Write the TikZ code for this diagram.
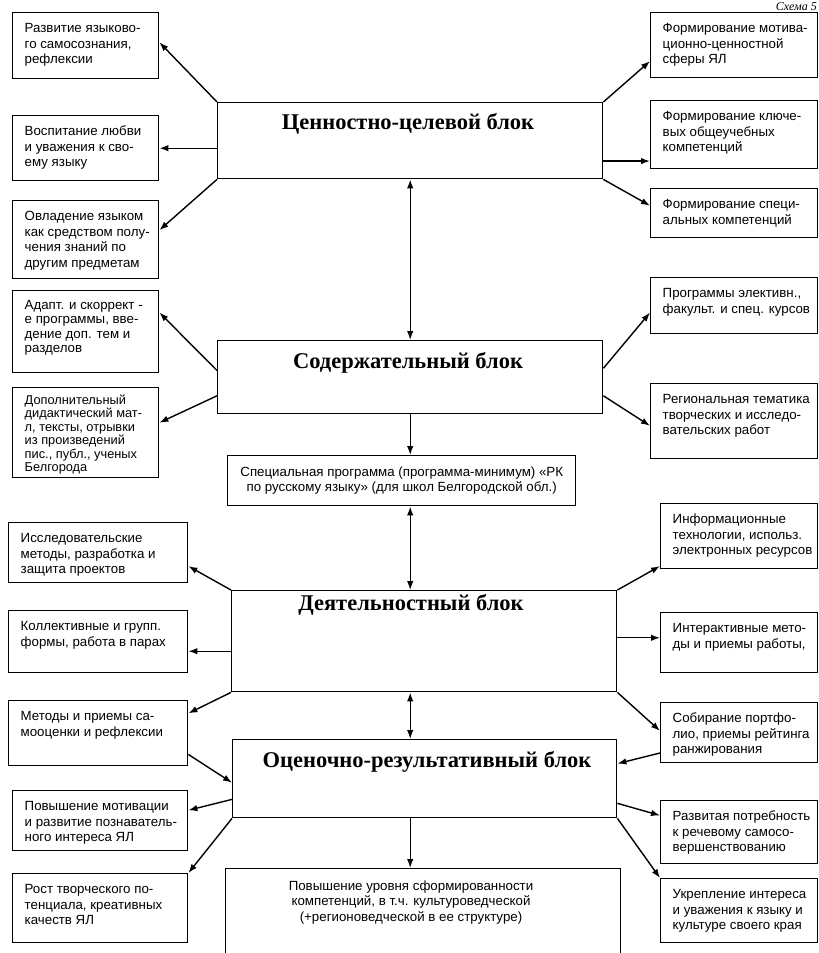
\documentclass[tikz,border=0pt]{standalone}
\usepackage{fontspec}
\setmainfont{Liberation Sans}
\newfontfamily\titlefont{Liberation Serif}
\usetikzlibrary{arrows.meta,calc}
\newcommand\bt[3]{\parbox[c][\dimexpr#2pt-18pt\relax][t]{\dimexpr#1pt-24pt\relax}{\begin{tabular}[t]{@{}l@{}}#3\end{tabular}}}
\begin{document}
\begin{tikzpicture}[x=1pt,y=-1pt,
  sbox/.style={draw, line width=1.4pt, anchor=north west, inner xsep=12pt, inner ysep=9pt, font={\fontsize{13.3}{15.5}\selectfont}},
  tight/.style={inner ysep=7pt, font={\fontsize{12.8}{13.4}\selectfont}},
  mid/.style={font={\fontsize{13.3}{14.2}\selectfont}},
  block/.style={draw, line width=1.4pt, anchor=north west, inner sep=0pt},
  ttl/.style={font={\titlefont\bfseries\fontsize{22.5}{26}\selectfont}},
  small/.style={font={\fontsize{13.3}{15.5}\selectfont}, align=center},
  arr/.style={-{Latex[length=9pt,width=6.5pt]}, line width=1.4pt},
  darr/.style={{Latex[length=9pt,width=6.5pt]}-{Latex[length=9pt,width=6.5pt]}, line width=1.4pt}]
\useasboundingbox (0,0) rectangle (819,953);

% header
\node[anchor=base east, inner sep=0pt, font={\titlefont\itshape\fontsize{12}{14}\selectfont}] (S) at (817,10) {Схема 5};

% main blocks
\node[block, minimum width=385pt, minimum height=76pt] (B1) at (217,102) {};
\node[ttl] (T1) at (408,124) {Ценностно-целевой блок};
\node[block, minimum width=385pt, minimum height=73pt] (B2) at (217,340) {};
\node[ttl] (T2) at (408,363) {Содержательный блок};
\node[block, minimum width=385pt, minimum height=101pt] (B3) at (231,590) {};
\node[ttl] (T3) at (411,605) {Деятельностный блок};
\node[block, minimum width=384pt, minimum height=78pt] (B4) at (232,739) {};
\node[ttl] (T4) at (427,762) {Оценочно-результативный блок};

\node[block, minimum width=348pt, minimum height=50pt] (Sp) at (227,455) {};
\node[small] (SpT) at (Sp.center) {Специальная программа (программа-минимум) «РК\\по русскому языку» (для школ Белгородской обл.)};

\node[block, minimum width=395pt, minimum height=100pt] (Bot) at (225,868) {};
\node[small, anchor=north] (BotT) at (411,877) {Повышение уровня сформированности\\компетенций, в т.ч. культуроведческой\\(+регионоведческой в ее структуре)};

% left boxes
\node[sbox] (L1) at (12,12) {\bt{146}{66}{Развитие языково-\\го самосознания,\\рефлексии}};
\node[sbox] (L2) at (12,115) {\bt{146}{65}{Воспитание любви\\и уважения к сво-\\ему языку}};
\node[sbox] (L3) at (12,200) {\bt{146}{78}{Овладение языком\\как средством полу-\\чения знаний по\\другим предметам}};
\node[sbox, mid] (L4) at (12,290) {\bt{146}{82}{Адапт. и скоррект -\\е программы, вве-\\дение доп. тем и\\разделов}};
\node[sbox, tight] (L5) at (12,387) {\parbox[c][76pt][t]{122pt}{\begin{tabular}[t]{@{}l@{}}Дополнительный\\дидактический мат-\\л, тексты, отрывки\\из произведений\\пис., публ., ученых\\Белгорода\end{tabular}}};
\node[sbox] (L6) at (8,522) {\bt{179}{60}{Исследовательские\\методы, разработка и\\защита проектов}};
\node[sbox] (L7) at (8,610) {\bt{179}{62}{Коллективные и групп.\\формы, работа в парах}};
\node[sbox] (L8) at (8,700) {\bt{179}{65}{Методы и приемы са-\\мооценки и рефлексии}};
\node[sbox] (L9) at (12,790) {\bt{175}{60}{Повышение мотивации\\и развитие познаватель-\\ного интереса ЯЛ}};
\node[sbox] (L10) at (12,873) {\bt{175}{69}{Рост творческого по-\\тенциала, креативных\\качеств ЯЛ}};

% right boxes
\node[sbox] (R1) at (650,12) {\bt{167}{65}{Формирование мотива-\\ционно-ценностной\\сферы ЯЛ}};
\node[sbox] (R2) at (650,100) {\bt{167}{68}{Формирование ключе-\\вых общеучебных\\компетенций}};
\node[sbox] (R3) at (650,188) {\bt{167}{49}{Формирование специ-\\альных компетенций}};
\node[sbox] (R4) at (650,277) {\bt{167}{56}{Программы элективн.,\\факульт. и спец. курсов}};
\node[sbox] (R5) at (650,383) {\bt{167}{75}{Региональная тематика\\творческих и исследо-\\вательских работ}};
\node[sbox] (R6) at (660,503) {\bt{157}{65}{Информационные\\технологии, использ.\\электронных ресурсов}};
\node[sbox] (R7) at (660,612) {\bt{157}{60}{Интерактивные мето-\\ды и приемы работы,}};
\node[sbox] (R8) at (660,702) {\bt{157}{60}{Собирание портфо-\\лио, приемы рейтинга\\ранжирования}};
\node[sbox] (R9) at (660,800) {\bt{157}{63}{Развитая потребность\\к речевому самосо-\\вершенствованию}};
\node[sbox] (R10) at (660,878) {\bt{157}{64}{Укрепление интереса\\и уважения к языку и\\культуре своего края}};

% vertical connectors
\draw[darr] (B1.south) -- (B1.south |- B2.north);
\draw[arr] (B2.south) -- (B2.south |- Sp.north);
\draw[darr] (B2.south |- Sp.south) -- (B2.south |- B3.north);
\draw[darr] (B1.south |- B3.south) -- (B1.south |- B4.north);
\draw[arr] (B1.south |- B4.south) -- (B1.south |- Bot.north);

% block 1
\draw[arr] (B1.north west) -- ($(L1.north east)!0.45!(L1.south east)$);
\draw[arr] (B1.west |- L2.east) -- (L2.east);
\draw[arr] (B1.south west) -- ($(L3.north east)!0.38!(L3.south east)$);
\draw[arr] (B1.north east) -- ($(R1.north west)!0.74!(R1.south west)$);
\coordinate (r2) at ($(R2.north west)!0.88!(R2.south west)$);
\draw[arr] (B1.east |- r2) -- (r2);
\draw[arr] (B1.south east) -- ($(R3.north west)!0.35!(R3.south west)$);

% block 2
\draw[arr] ($(B2.north west)!0.41!(B2.south west)$) -- ($(L4.north east)!0.27!(L4.south east)$);
\draw[arr] ($(B2.north west)!0.75!(B2.south west)$) -- ($(L5.north east)!0.39!(L5.south east)$);
\draw[arr] ($(B2.north east)!0.38!(B2.south east)$) -- ($(R4.north west)!0.62!(R4.south west)$);
\draw[arr] ($(B2.north east)!0.75!(B2.south east)$) -- ($(R5.north west)!0.56!(R5.south west)$);

% block 3
\draw[arr] (B3.north west) -- ($(L6.north east)!0.72!(L6.south east)$);
\coordinate (l7) at ($(L7.north east)!0.65!(L7.south east)$);
\draw[arr] (B3.west |- l7) -- (l7);
\draw[arr] (B3.south west) -- ($(L8.north east)!0.2!(L8.south east)$);
\draw[arr] (B3.north east) -- ($(R6.north west)!0.95!(R6.south west)$);
\coordinate (r7) at ($(R7.north west)!0.42!(R7.south west)$);
\draw[arr] (B3.east |- r7) -- (r7);
\draw[arr] (B3.south east) -- ($(R8.north west)!0.47!(R8.south west)$);

% block 4
\draw[arr] ($(L8.north east)!0.82!(L8.south east)$) -- ($(B4.north west)!0.55!(B4.south west)$);
\draw[arr] ($(B4.north west)!0.76!(B4.south west)$) -- ($(L9.north east)!0.33!(L9.south east)$);
\draw[arr] (B4.south west) -- (L10.north east);
\draw[arr] ($(R8.north west)!0.83!(R8.south west)$) -- ($(B4.north east)!0.31!(B4.south east)$);
\draw[arr] ($(B4.north east)!0.81!(B4.south east)$) -- ($(R9.north west)!0.24!(R9.south west)$);
\draw[arr] (B4.south east) -- (R10.north west);
\end{tikzpicture}
\end{document}
